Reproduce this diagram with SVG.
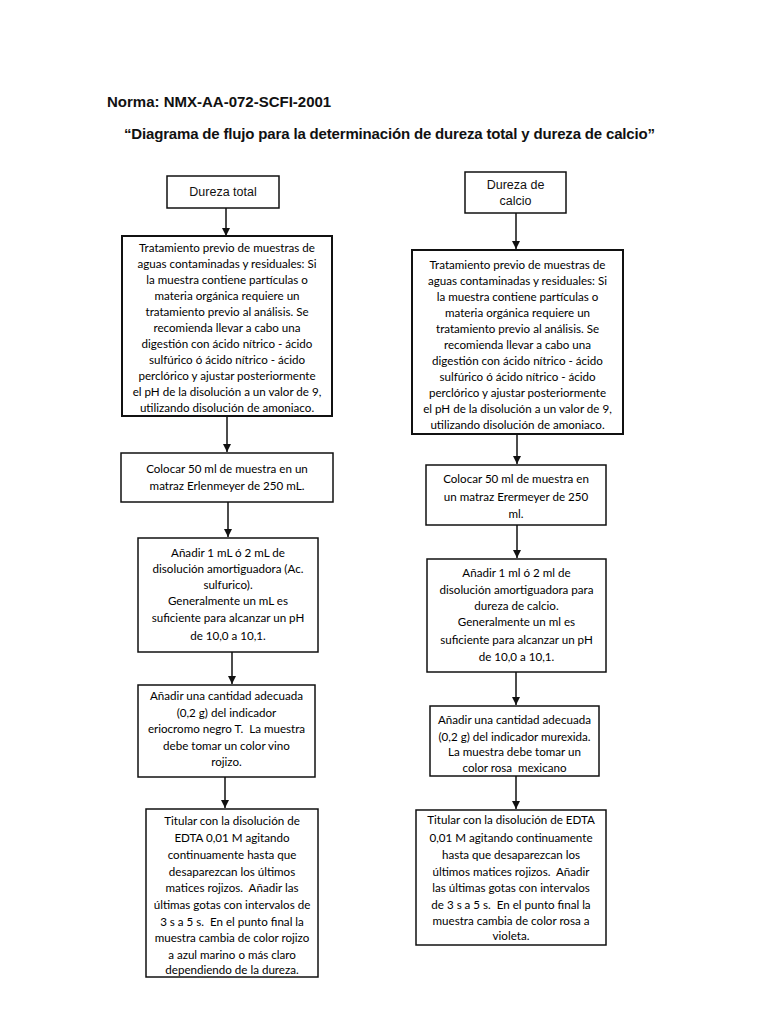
<svg xmlns="http://www.w3.org/2000/svg" width="768" height="1024" viewBox="0 0 768 1024">
<style>
.bg{fill:#fff}
.box{fill:#fff;stroke:#111;stroke-width:1.5}
.thick{stroke-width:2}
.hd{font-family:"Liberation Sans",Arial,sans-serif;font-weight:bold;fill:#111}
.lbl{font-family:"Liberation Sans",Arial,sans-serif;font-size:12.5px;fill:#111;text-anchor:middle}
.t{font-family:Lato,"Noto Sans",sans-serif;font-size:11.6px;fill:#000;text-anchor:middle;white-space:pre}
.edge{stroke:#111;stroke-width:1.5;fill:none;marker-end:url(#ah)}
</style>
<defs>
<marker id="ah" markerUnits="userSpaceOnUse" markerWidth="9" markerHeight="9" refX="8" refY="4" orient="auto">
<path d="M0,0 L8,4 L0,8 z" fill="#111"/>
</marker>
</defs>
<rect class="bg" width="768" height="1024"/>
<text class="hd" x="107" y="107" font-size="15">Norma: NMX-AA-072-SCFI-2001</text>
<text class="hd" x="124" y="139" font-size="15" textLength="531" lengthAdjust="spacing">“Diagrama de flujo para la determinación de dureza total y dureza de calcio”</text>

<g id="connectors">
<line class="edge" x1="226" y1="208" x2="226" y2="236"/>
<line class="edge" x1="227" y1="416" x2="227" y2="452"/>
<line class="edge" x1="228" y1="502" x2="228" y2="537"/>
<line class="edge" x1="232" y1="652" x2="232" y2="684"/>
<line class="edge" x1="225" y1="777" x2="225" y2="808"/>
<line class="edge" x1="516" y1="213" x2="516" y2="249"/>
<line class="edge" x1="517" y1="434" x2="517" y2="464"/>
<line class="edge" x1="517" y1="525" x2="517" y2="558"/>
<line class="edge" x1="516" y1="672" x2="516" y2="705"/>
<line class="edge" x1="516" y1="776" x2="516" y2="809"/>
</g>

<g id="n-dureza-total">
<rect class="box" x="167" y="176" width="112" height="32"/>
<text class="lbl" x="223" y="196">Dureza total</text>
</g>
<g id="n-trat-total">
<rect class="box thick" x="122" y="236" width="210" height="180"/>
<text class="t" x="227" y="252">Tratamiento previo de muestras de</text>
<text class="t" x="227" y="268">aguas contaminadas y residuales: Si</text>
<text class="t" x="227" y="284">la muestra contiene partículas o</text>
<text class="t" x="227" y="300">materia orgánica requiere un</text>
<text class="t" x="227" y="316">tratamiento previo al análisis. Se</text>
<text class="t" x="227" y="332">recomienda llevar a cabo una</text>
<text class="t" x="227" y="348">digestión con ácido nítrico - ácido</text>
<text class="t" x="227" y="364">sulfúrico ó ácido nítrico - ácido</text>
<text class="t" x="227" y="380">perclórico y ajustar posteriormente</text>
<text class="t" x="227" y="396">el pH de la disolución a un valor de 9,</text>
<text class="t" x="227" y="412">utilizando disolución de amoniaco.</text>
</g>
<g id="n-colocar-total">
<rect class="box" x="121" y="453" width="212" height="49"/>
<text class="t" x="227" y="473">Colocar 50 ml de muestra en un</text>
<text class="t" x="227" y="490">matraz Erlenmeyer de 250 mL.</text>
</g>
<g id="n-anadir-total">
<rect class="box" x="138" y="538" width="180" height="114"/>
<text class="t" x="228" y="557">Añadir 1 mL ó 2 mL de</text>
<text class="t" x="228" y="573">disolución amortiguadora (Ac.</text>
<text class="t" x="228" y="589">sulfurico).</text>
<text class="t" x="228" y="605">Generalmente un mL es</text>
<text class="t" x="228" y="622">suficiente para alcanzar un pH</text>
<text class="t" x="228" y="640">de 10,0 a 10,1.</text>
</g>
<g id="n-indicador-total">
<rect class="box" x="138" y="685" width="177" height="92"/>
<text class="t" x="226.5" y="700">Añadir una cantidad adecuada</text>
<text class="t" x="226.5" y="717">(0,2 g) del indicador</text>
<text class="t" x="226.5" y="733">eriocromo negro T.  La muestra</text>
<text class="t" x="226.5" y="750">debe tomar un color vino</text>
<text class="t" x="226.5" y="766">rojizo.</text>
</g>
<g id="n-titular-total">
<rect class="box" x="146" y="809" width="172" height="168"/>
<text class="t" x="232" y="825">Titular con la disolución de</text>
<text class="t" x="232" y="842">EDTA 0,01 M agitando</text>
<text class="t" x="232" y="859">continuamente hasta que</text>
<text class="t" x="232" y="876">desaparezcan los últimos</text>
<text class="t" x="232" y="892">matices rojizos.  Añadir las</text>
<text class="t" x="232" y="909">últimas gotas con intervalos de</text>
<text class="t" x="232" y="926">3 s a 5 s.  En el punto final la</text>
<text class="t" x="232" y="942">muestra cambia de color rojizo</text>
<text class="t" x="232" y="959">a azul marino o más claro</text>
<text class="t" x="232" y="974">dependiendo de la dureza.</text>
</g>

<g id="n-dureza-calcio">
<rect class="box" x="465" y="172" width="101" height="41"/>
<text class="lbl" x="515.5" y="189">Dureza de</text>
<text class="lbl" x="515.5" y="205">calcio</text>
</g>
<g id="n-trat-calcio">
<rect class="box thick" x="412" y="250" width="211" height="184"/>
<text class="t" x="517.5" y="269">Tratamiento previo de muestras de</text>
<text class="t" x="517.5" y="285">aguas contaminadas y residuales: Si</text>
<text class="t" x="517.5" y="301">la muestra contiene partículas o</text>
<text class="t" x="517.5" y="317">materia orgánica requiere un</text>
<text class="t" x="517.5" y="333">tratamiento previo al análisis. Se</text>
<text class="t" x="517.5" y="349">recomienda llevar a cabo una</text>
<text class="t" x="517.5" y="365">digestión con ácido nítrico - ácido</text>
<text class="t" x="517.5" y="381">sulfúrico ó ácido nítrico - ácido</text>
<text class="t" x="517.5" y="397">perclórico y ajustar posteriormente</text>
<text class="t" x="517.5" y="413">el pH de la disolución a un valor de 9,</text>
<text class="t" x="517.5" y="429">utilizando disolución de amoniaco.</text>
</g>
<g id="n-colocar-calcio">
<rect class="box" x="426" y="465" width="180" height="60"/>
<text class="t" x="516" y="483">Colocar 50 ml de muestra en</text>
<text class="t" x="516" y="501">un matraz Erermeyer de 250</text>
<text class="t" x="516" y="518">ml.</text>
</g>
<g id="n-anadir-calcio">
<rect class="box" x="427" y="559" width="179" height="113"/>
<text class="t" x="516.5" y="577">Añadir 1 ml ó 2 ml de</text>
<text class="t" x="516.5" y="594">disolución amortiguadora para</text>
<text class="t" x="516.5" y="610">dureza de calcio.</text>
<text class="t" x="516.5" y="626">Generalmente un ml es</text>
<text class="t" x="516.5" y="644">suficiente para alcanzar un pH</text>
<text class="t" x="516.5" y="661">de 10,0 a 10,1.</text>
</g>
<g id="n-indicador-calcio">
<rect class="box" x="430" y="706" width="169" height="70"/>
<text class="t" x="514.5" y="724">Añadir una cantidad adecuada</text>
<text class="t" x="514.5" y="741">(0,2 g) del indicador murexida.</text>
<text class="t" x="514.5" y="756">La muestra debe tomar un</text>
<text class="t" x="514.5" y="772">color rosa  mexicano</text>
</g>
<g id="n-titular-calcio">
<rect class="box" x="416" y="810" width="190" height="135"/>
<text class="t" x="511" y="824">Titular con la disolución de EDTA</text>
<text class="t" x="511" y="842">0,01 M agitando continuamente</text>
<text class="t" x="511" y="859">hasta que desaparezcan los</text>
<text class="t" x="511" y="876">últimos matices rojizos.  Añadir</text>
<text class="t" x="511" y="892">las últimas gotas con intervalos</text>
<text class="t" x="511" y="909">de 3 s a 5 s.  En el punto final la</text>
<text class="t" x="511" y="925">muestra cambia de color rosa a</text>
<text class="t" x="511" y="940">violeta.</text>
</g>
</svg>
